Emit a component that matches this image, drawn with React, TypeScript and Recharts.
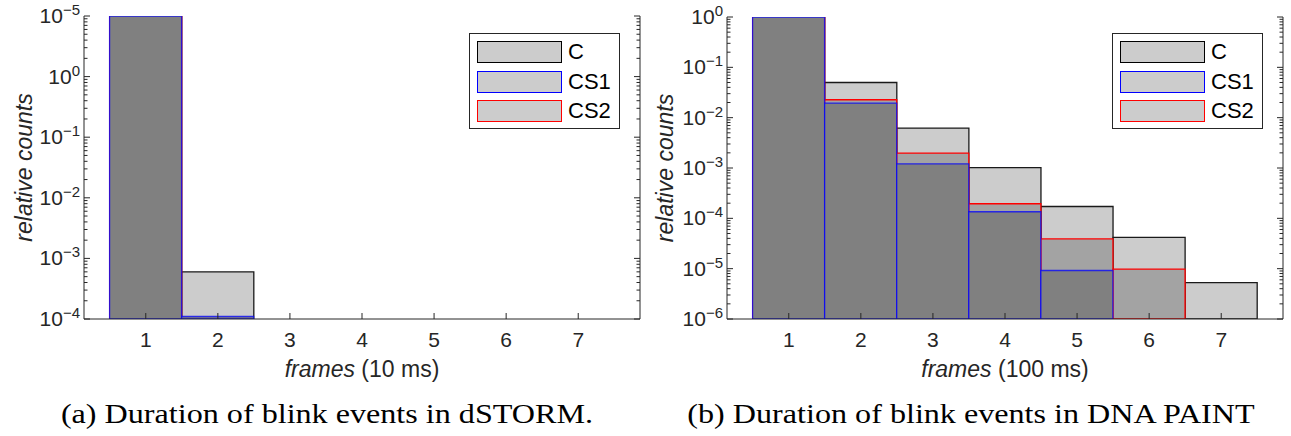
import React from "react";
import { BarChart, Bar, XAxis, YAxis, Legend, Rectangle } from "recharts";

// frames (bin centres)
const frames = [1, 2, 3, 4, 5, 6, 7];

// (a) dSTORM, 10 ms frames
const stormC = [10, 6.0e-4, null, null, null, null, null];
const stormCS1 = [10, 1.1e-4, null, null, null, null, null];
const stormCS2 = [10, null, null, null, null, null, null];

// (b) DNA PAINT, 100 ms frames
const paintC = [1, 0.05, 6.2e-3, 1.02e-3, 1.72e-4, 4.2e-5, 5.3e-6];
const paintCS1 = [1, 0.0195, 1.21e-3, 1.35e-4, 9.2e-6, null, null];
const paintCS2 = [1, 0.0227, 1.98e-3, 1.95e-4, 3.9e-5, 9.8e-6, null];

// y tick decades and the exponent text printed next to each one
const stormDecades = [1e-4, 1e-3, 1e-2, 1e-1, 1, 10];
const stormExponents = ["\u22124", "\u22123", "\u22122", "\u22121", "0", "\u22125"];
const paintDecades = [1e-6, 1e-5, 1e-4, 1e-3, 1e-2, 1e-1, 1];
const paintExponents = ["\u22126", "\u22125", "\u22124", "\u22123", "\u22122", "\u22121", "0"];

const legendItems = [
  { name: "C", stroke: "#000000" },
  { name: "CS1", stroke: "#0000FF" },
  { name: "CS2", stroke: "#FF0000" },
];

const AX = "#262626";
const FONT = "'Liberation Sans', Arial, Helvetica, sans-serif";
const X_DOMAIN = [0.143, 7.857];

function buildRows(c: any[], cs1: any[], cs2: any[]) {
  return frames.map((f, i) => ({ frame: f, C: c[i], CS1: cs1[i], CS2: cs2[i] }));
}

// majors + 2..9 minors inside every decade
function logTicks(decades: number[]) {
  const out: number[] = [];
  decades.forEach((d, i) => {
    out.push(d);
    if (i < decades.length - 1) for (let m = 2; m <= 9; m++) out.push(m * d);
  });
  return out;
}

function isMajor(decades: number[], v: number) {
  return decades.findIndex((d) => Math.abs(Math.log10(d) - Math.log10(v)) < 1e-6);
}

function YTick(props: any) {
  const { x, y, payload, decades, exponents, side } = props;
  const idx = isMajor(decades, payload.value);
  const len = idx >= 0 ? 6 : 3.5;
  const dir = side === "left" ? 1 : -1;
  return (
    <g>
      <line x1={x} x2={x + dir * len} y1={y} y2={y} stroke={AX} strokeWidth={1} />
      {side === "left" && idx >= 0 && (
        <text x={x - 4} y={y + 7} textAnchor="end" fill={AX} fontSize={21} fontFamily={FONT}>
          <tspan>10</tspan>
          <tspan dy={-8} fontSize={15}>{exponents[idx]}</tspan>
        </text>
      )}
    </g>
  );
}

function XTick(props: any) {
  const { x, y, payload, side } = props;
  const dir = side === "bottom" ? -1 : 1;
  return (
    <g>
      <line x1={x} x2={x} y1={y} y2={y + dir * 6} stroke={AX} strokeWidth={1} />
      {side === "bottom" && (
        <text x={x} y={y + 28} textAnchor="middle" fill={AX} fontSize={21} fontFamily={FONT}>
          {payload.value}
        </text>
      )}
    </g>
  );
}

const skipEmpty = (key: string) => (props: any) =>
  props.payload == null || props.payload[key] == null ? <g /> : <Rectangle {...props} />;

function LegendBox() {
  return (
    <div
      style={{
        width: 151,
        height: 96,
        border: `1px solid ${AX}`,
        background: "#fff",
        boxSizing: "border-box",
        position: "relative",
        fontFamily: FONT,
      }}
    >
      {legendItems.map((it, i) => (
        <div key={it.name} style={{ position: "absolute", left: 7, top: 7 + i * 29.5 }}>
          <div
            style={{
              width: 85,
              height: 22,
              background: "#CCCCCC",
              border: `1.3px solid ${it.stroke}`,
              boxSizing: "border-box",
            }}
          />
          <span
            style={{
              position: "absolute",
              left: 91,
              top: 0,
              fontSize: 22,
              lineHeight: "22px",
              color: "#000",
              whiteSpace: "nowrap",
            }}
          >
            {it.name}
          </span>
        </div>
      ))}
    </div>
  );
}

function Panel(props: {
  width: number;
  rows: any[];
  decades: number[];
  exponents: string[];
  top: number;
  leftW: number;
  rightW: number;
  unit: string;
  yLabelX: number;
  legendLeft: number;
}) {
  const { width, rows, decades, exponents, top, leftW, rightW, unit, yLabelX, legendLeft } = props;
  const yDomain = [decades[0], decades[decades.length - 1]];
  const yTicks = logTicks(decades);
  return (
    <BarChart
      width={width}
      height={390}
      data={rows}
      margin={{ top, right: 0, bottom: 0, left: 0 }}
      barCategoryGap={0}
      barGap="-100%"
    >
      <XAxis
        dataKey="frame"
        type="number"
        domain={X_DOMAIN}
        ticks={frames}
        allowDataOverflow
        interval={0}
        height={71}
        tickSize={0}
        tickMargin={0}
        tickLine={false}
        axisLine={{ stroke: AX, strokeWidth: 1 }}
        tick={<XTick side="bottom" />}
        label={(p: any) => {
          const vb = p.viewBox;
          return (
            <text x={vb.x + vb.width / 2} y={vb.y + 58} textAnchor="middle" fill={AX} fontSize={23} fontFamily={FONT}>
              <tspan fontStyle="italic">frames</tspan>
              <tspan>{" (" + unit + ")"}</tspan>
            </text>
          );
        }}
      />
      <XAxis
        xAxisId="top"
        orientation="top"
        type="number"
        domain={X_DOMAIN}
        ticks={frames}
        allowDataOverflow
        interval={0}
        height={0}
        tickSize={0}
        tickMargin={0}
        tickLine={false}
        axisLine={{ stroke: AX, strokeWidth: 1 }}
        tick={<XTick side="top" />}
      />
      <YAxis
        scale="log"
        type="number"
        domain={yDomain}
        ticks={yTicks}
        allowDataOverflow
        interval={0}
        width={leftW}
        tickSize={0}
        tickMargin={0}
        tickLine={false}
        axisLine={{ stroke: AX, strokeWidth: 1 }}
        tick={<YTick side="left" decades={decades} exponents={exponents} />}
        label={(p: any) => {
          const vb = p.viewBox;
          const cx = vb.x + yLabelX;
          const cy = vb.y + vb.height / 2;
          return (
            <text
              x={cx}
              y={cy}
              textAnchor="middle"
              dominantBaseline="central"
              transform={`rotate(-90, ${cx}, ${cy})`}
              fill={AX}
              fontSize={23}
              fontStyle="italic"
              fontFamily={FONT}
            >
              relative counts
            </text>
          );
        }}
      />
      <YAxis
        yAxisId="right"
        orientation="right"
        scale="log"
        type="number"
        domain={yDomain}
        ticks={yTicks}
        allowDataOverflow
        interval={0}
        width={rightW}
        tickSize={0}
        tickMargin={0}
        tickLine={false}
        axisLine={{ stroke: AX, strokeWidth: 1 }}
        tick={<YTick side="right" decades={decades} exponents={exponents} />}
      />
      <Bar dataKey="C" fill="#CCCCCC" stroke="#1A1A1A" strokeWidth={1.3} isAnimationActive={false} shape={skipEmpty("C")} />
      <Bar dataKey="CS2" fill="#A3A3A3" stroke="#FF0000" strokeWidth={1.3} isAnimationActive={false} shape={skipEmpty("CS2")} />
      <Bar
        dataKey="CS1"
        fill="#808080"
        stroke="#0000FF"
        strokeOpacity={0.75}
        strokeWidth={1.3}
        isAnimationActive={false}
        shape={skipEmpty("CS1")}
      />
      <Legend
        layout="vertical"
        align="center"
        verticalAlign="middle"
        content={() => <LegendBox />}
        wrapperStyle={{ left: legendLeft, top: 33, width: 151, height: 96 }}
      />
    </BarChart>
  );
}

const captionStyle: React.CSSProperties = {
  position: "absolute",
  top: 401,
  textAlign: "center",
  fontFamily: "'Liberation Serif', 'DejaVu Serif', serif",
  fontSize: 27,
  lineHeight: 1,
  color: "#000",
  whiteSpace: "nowrap",
  transform: "scaleX(1.19)",
  transformOrigin: "50% 50%",
};

export default function App() {
  return (
    <div style={{ position: "absolute", left: 0, top: 0, width: 1291, height: 436, background: "#fff" }}>
      <div style={{ position: "absolute", left: 0, top: 0 }}>
        <Panel
          width={645}
          rows={buildRows(stormC, stormCS1, stormCS2)}
          decades={stormDecades}
          exponents={stormExponents}
          top={16}
          leftW={84}
          rightW={5}
          unit="10 ms"
          yLabelX={24}
          legendLeft={469}
        />
      </div>
      <div style={{ position: "absolute", left: 645, top: 0 }}>
        <Panel
          width={646}
          rows={buildRows(paintC, paintCS1, paintCS2)}
          decades={paintDecades}
          exponents={paintExponents}
          top={17}
          leftW={82}
          rightW={8}
          unit="100 ms"
          yLabelX={20}
          legendLeft={467}
        />
      </div>
      <div style={{ ...captionStyle, left: 0, width: 654 }}>(a) Duration of blink events in dSTORM.</div>
      <div style={{ ...captionStyle, left: 645, width: 652 }}>(b) Duration of blink events in DNA PAINT</div>
    </div>
  );
}
